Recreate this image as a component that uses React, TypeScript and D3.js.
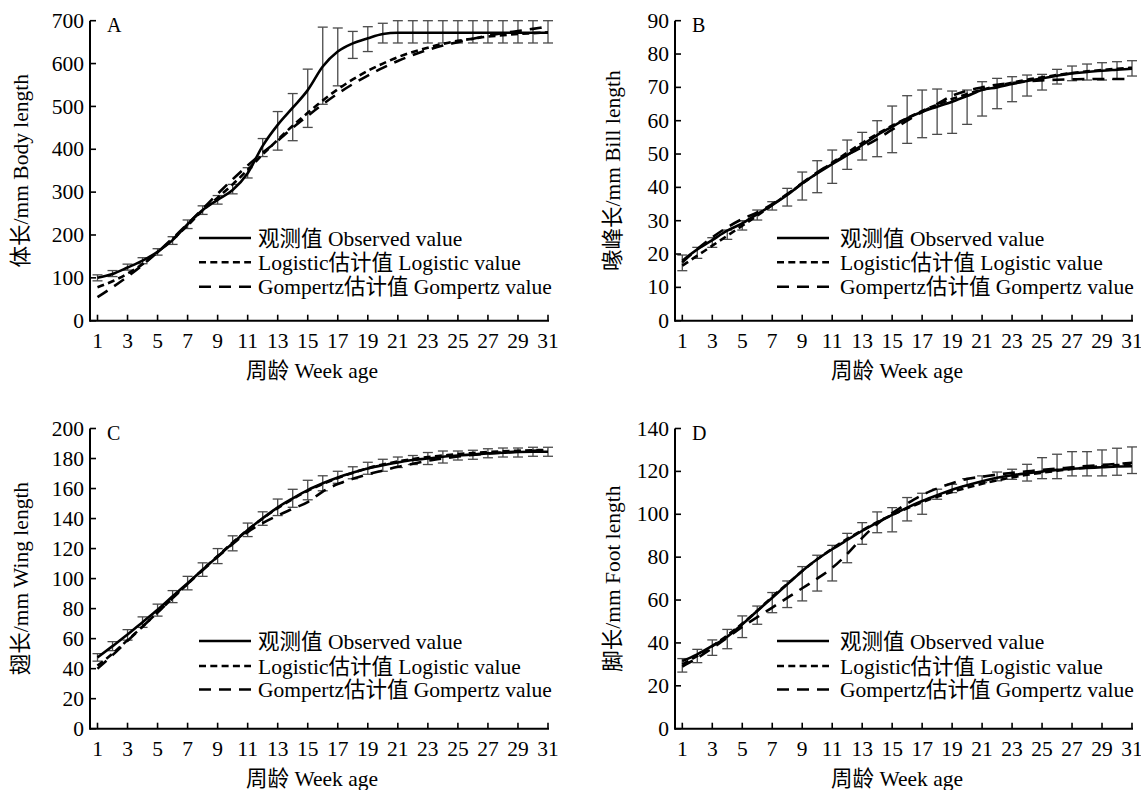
import React from 'react';
import * as d3 from 'd3';

const weeks = [1, 2, 3, 4, 5, 6, 7, 8, 9, 10, 11, 12, 13, 14, 15, 16, 17, 18, 19, 20, 21, 22, 23, 24, 25, 26, 27, 28, 29, 30, 31];
const xTicks = [1, 3, 5, 7, 9, 11, 13, 15, 17, 19, 21, 23, 25, 27, 29, 31];
const legendLabels = ['观测值 Observed value', 'Logistic估计值 Logistic value', 'Gompertz估计值 Gompertz value'];
const xTitle = '周龄 Week age';

// A body length
const yTicksA = [0, 100, 200, 300, 400, 500, 600, 700];
const obsA = [100, 109, 124, 140, 161, 188, 225, 258, 282, 305, 344, 408, 457, 497, 538, 593, 628, 647, 659, 669, 672, 672, 672, 672, 672, 672, 672, 672, 672, 672, 672];
const loA = [93, 103, 118, 133, 153, 178, 215, 248, 272, 296, 333, 383, 398, 420, 451, 505, 548, 612, 628, 648, 648, 648, 648, 648, 648, 648, 648, 648, 648, 648, 648];
const hiA = [107, 117, 132, 147, 168, 196, 235, 268, 292, 318, 357, 425, 488, 530, 587, 685, 683, 675, 686, 694, 700, 700, 700, 700, 700, 700, 700, 700, 700, 700, 700];
const logA = [78, 92, 110, 132, 160, 190, 222, 257, 287, 318, 352, 388, 422, 455, 485, 514, 540, 563, 583, 600, 615, 627, 637, 646, 653, 658, 663, 666, 669, 671, 673];
const gomA = [55, 78, 103, 130, 160, 192, 226, 261, 296, 330, 362, 392, 420, 450, 478, 505, 530, 552, 572, 590, 606, 620, 632, 642, 650, 658, 665, 671, 676, 681, 686];

// B bill length
const yTicksB = [0, 10, 20, 30, 40, 50, 60, 70, 80, 90];
const obsB = [18, 21.4, 24.2, 27, 29.2, 32, 34.7, 37.7, 41.2, 44.2, 47, 49.7, 52.7, 55.7, 58.2, 60.7, 62.7, 64.2, 65.7, 67.4, 69.2, 70, 71, 71.9, 72.7, 73.5, 74.2, 74.6, 75, 75.3, 75.6];
const loB = [15, 18.7, 22, 24.4, 27.2, 30.2, 33.2, 34.4, 36.2, 38.4, 41.2, 45.4, 48.2, 49.2, 50.4, 53.2, 54.9, 55.9, 56.2, 58.9, 61.4, 63.6, 65.7, 67.4, 69.2, 71, 72, 72.2, 72.2, 72.4, 73.4];
const hiB = [19.7, 22, 24.9, 27.2, 30, 33.2, 35.7, 39.7, 44.6, 48, 51.2, 54.2, 56.5, 60, 64.4, 67.5, 69.2, 69.5, 68.9, 69.2, 71.7, 72.7, 73.2, 73.7, 73.9, 75.4, 76.4, 77, 77.4, 77.7, 78];
const logB = [16.5, 19.5, 22.5, 25.5, 28.5, 31.5, 34.7, 37.9, 41.1, 44.3, 47.4, 50.4, 53.3, 56, 58.5, 60.8, 62.9, 64.8, 66.5, 68, 69.3, 70.4, 71.4, 72.3, 73, 73.7, 74.3, 74.8, 75.2, 75.6, 75.9];
const gomB = [17.5, 21.5, 25, 28, 30.5, 32.5, 35, 38, 41.3, 44.5, 47.3, 49.8, 52, 54.5, 57.3, 60, 62.6, 65, 67.5, 69, 70, 70.8, 71.3, 71.8, 72.1, 72.3, 72.4, 72.5, 72.5, 72.5, 72.5];

// C wing length
const yTicksC = [0, 20, 40, 60, 80, 100, 120, 140, 160, 180, 200];
const obsC = [47.5, 55, 62.7, 71, 79.3, 88.2, 97, 105.9, 114.7, 123.6, 132.4, 140.2, 147.5, 153.5, 159, 163.5, 167.4, 170.5, 173.4, 175.6, 177.4, 179, 180, 181.2, 182, 182.7, 183.4, 183.8, 184.3, 184.5, 184.5];
const loC = [45, 52, 59, 67.5, 75, 84, 92.5, 101.5, 110, 118.5, 128, 135.5, 142, 147.5, 152.5, 158.5, 163.5, 166.5, 169.5, 171.5, 174, 176, 176, 177, 179, 179.5, 180.5, 181, 181, 181.5, 181.5];
const hiC = [50, 58, 66, 74.5, 83, 92, 101.5, 110.5, 120, 128.5, 137, 144.5, 153, 159.5, 165.5, 168.5, 171.5, 174.5, 177.5, 179.5, 181, 182, 184, 185, 185, 185.5, 186.5, 187, 187, 187.5, 187.5];
const logC = [42, 50, 59, 68, 77.5, 87, 96.5, 106, 115, 124, 132.5, 140, 147, 153, 158.5, 163, 167, 170.5, 173.5, 176, 178, 179.6, 181, 182, 183, 183.7, 184.3, 184.8, 185.2, 185.5, 185.8];
const gomC = [40, 49, 58.5, 68, 77.5, 87, 96.5, 105.5, 114.5, 123, 131, 137, 142, 146.5, 151, 158, 163, 166.5, 169.5, 172, 174.5, 176.5, 178.5, 180, 181.3, 182.4, 183.3, 184, 184.7, 185.2, 185.7];

// D foot length
const yTicksD = [0, 20, 40, 60, 80, 100, 120, 140];
const obsD = [31.6, 34.7, 38.6, 42.9, 48.7, 54.9, 61.1, 67.3, 73.6, 79, 83.7, 88, 92.2, 96.1, 99.7, 103.1, 106.2, 108.9, 111.4, 113.5, 115.4, 117, 118.2, 119.1, 119.9, 120.7, 121.2, 121.6, 121.9, 122.3, 122.4];
const loD = [26.4, 30.8, 34.2, 37.3, 42.5, 48.7, 54.1, 56.5, 59.6, 64.2, 68.9, 77.4, 86, 91.4, 91.8, 96.9, 100, 107, 110.1, 113.2, 114.8, 115.6, 116.3, 115.5, 116.6, 116.6, 117.9, 117.9, 117.9, 118.2, 119];
const hiD = [32.7, 37, 41.4, 46.3, 52.6, 57.2, 63.5, 68.9, 75.6, 80.9, 85.5, 91.1, 96.1, 101.1, 103.1, 107.8, 109.8, 111.7, 114, 116.6, 117.9, 119.7, 121, 123.3, 126.4, 128, 129.2, 129.2, 130, 130.8, 131.4];
const logD = [30, 34, 38.5, 43.5, 49, 55, 61.5, 67.5, 73.5, 79, 84, 88.5, 92.5, 96.3, 99.7, 102.8, 105.6, 108.2, 110.4, 112.4, 114.2, 115.8, 117.2, 118.4, 119.4, 120.3, 121.1, 121.8, 122.4, 122.9, 123.3];
const gomD = [29, 33, 37.5, 42.5, 47.5, 52, 56.5, 61, 65.5, 70, 75, 81.5, 89, 95.5, 100.5, 105, 109, 112, 114.5, 116.5, 117.5, 118.5, 119.3, 120, 120.7, 121.3, 121.9, 122.5, 123, 123.5, 124];

const FONT = "'Liberation Serif', 'Times New Roman', 'Noto Sans CJK SC', serif";
const FS = 21.5;
const dashes = [null, '7,4.3', '12,8'];

type PanelProps = {
  letter: string;
  yTitle: string;
  yTicks: number[];
  obs: number[];
  lo: number[];
  hi: number[];
  logi: number[];
  gomp: number[];
  axisX: number;
  x1: number;
  x31: number;
  yTop: number;
  yBottom: number;
  yTitleX: number;
  xTitleX: number;
  legendLineX: number;
  legendTextX: number;
  legendY: number[];
};

const Panel = (p: PanelProps) => {
  const x = d3.scaleLinear().domain([1, 31]).range([p.x1, p.x31]);
  const y = d3.scaleLinear().domain([0, p.yTicks[p.yTicks.length - 1]]).range([p.yBottom, p.yTop]);
  const line = d3.line<number>()
    .x((_, i) => x(weeks[i]))
    .y(d => y(d))
    .curve(d3.curveMonotoneX);
  const series = [p.obs, p.logi, p.gomp];

  return (
    <g fontFamily={FONT} fill="#000">
      {/* error bars */}
      <g stroke="#4a4a4a" strokeWidth={1.3}>
        {weeks.map((w, i) => (
          <g key={w}>
            <line x1={x(w)} x2={x(w)} y1={y(p.lo[i])} y2={y(p.hi[i])} />
            <line x1={x(w) - 5} x2={x(w) + 5} y1={y(p.lo[i])} y2={y(p.lo[i])} />
            <line x1={x(w) - 5} x2={x(w) + 5} y1={y(p.hi[i])} y2={y(p.hi[i])} />
          </g>
        ))}
      </g>
      {/* curves */}
      {[2, 1, 0].map(k => (
        <path key={k} d={line(series[k]) || ''} fill="none" stroke="#000"
          strokeWidth={2.6} strokeDasharray={dashes[k] || undefined} />
      ))}
      {/* axes */}
      <g stroke="#000" strokeWidth={2}>
        <line x1={p.axisX} x2={p.axisX} y1={p.yTop} y2={p.yBottom + 1} />
        <line x1={p.axisX} x2={p.x31 + 1} y1={p.yBottom} y2={p.yBottom} />
        {p.yTicks.map(t => (
          <line key={t} x1={p.axisX} x2={p.axisX + 6} y1={y(t)} y2={y(t)} strokeWidth={1.6} />
        ))}
        {xTicks.map(t => (
          <line key={t} x1={x(t)} x2={x(t)} y1={p.yBottom} y2={p.yBottom - 6} strokeWidth={1.6} />
        ))}
      </g>
      <g fontSize={FS}>
        {p.yTicks.map(t => (
          <text key={t} x={p.axisX - 6} y={y(t)} dy="0.33em" textAnchor="end">{t}</text>
        ))}
        {xTicks.map(t => (
          <text key={t} x={x(t)} y={p.yBottom + 27} textAnchor="middle">{t}</text>
        ))}
        <text x={p.xTitleX} y={p.yBottom + 57} textAnchor="middle">{xTitle}</text>
        <text transform={`translate(${p.yTitleX},${(p.yTop + p.yBottom) / 2}) rotate(-90)`}
          textAnchor="middle" dy="0.35em">{p.yTitle}</text>
        <text x={p.axisX + 17} y={p.yTop + 11} fontSize={20}>{p.letter}</text>
      </g>
      {/* legend */}
      <g fontSize={FS}>
        {legendLabels.map((lab, k) => (
          <g key={lab}>
            <line x1={p.legendLineX} x2={p.legendLineX + 52} y1={p.legendY[k]} y2={p.legendY[k]}
              stroke="#000" strokeWidth={2.6} strokeDasharray={dashes[k] || undefined} />
            <text x={p.legendTextX} y={p.legendY[k]} dy="0.35em">{lab}</text>
          </g>
        ))}
      </g>
    </g>
  );
};

const App = () => {
  const left = { axisX: 90, x1: 97.5, x31: 548, yTitleX: 20, xTitleX: 312, legendLineX: 199, legendTextX: 258 };
  const right = { axisX: 675, x1: 682.3, x31: 1132, yTitleX: 612, xTitleX: 897, legendLineX: 777, legendTextX: 840 };
  const top = { yTop: 20.7, yBottom: 320.7, legendY: [238, 262.3, 286.7] };
  const bottom = { yTop: 428.5, yBottom: 728.7, legendY: [641, 666, 689.5] };

  return (
    <svg width={1141} height={790} style={{ position: 'absolute', left: 0, top: 0, background: '#fff' }}>
      <Panel letter="A" yTitle="体长/mm Body length" yTicks={yTicksA}
        obs={obsA} lo={loA} hi={hiA} logi={logA} gomp={gomA} {...left} {...top} />
      <Panel letter="B" yTitle="喙峰长/mm Bill length" yTicks={yTicksB}
        obs={obsB} lo={loB} hi={hiB} logi={logB} gomp={gomB} {...right} {...top} />
      <Panel letter="C" yTitle="翅长/mm Wing length" yTicks={yTicksC}
        obs={obsC} lo={loC} hi={hiC} logi={logC} gomp={gomC} {...left} {...bottom} />
      <Panel letter="D" yTitle="脚长/mm Foot length" yTicks={yTicksD}
        obs={obsD} lo={loD} hi={hiD} logi={logD} gomp={gomD} {...right} {...bottom} />
    </svg>
  );
};

export default App;
